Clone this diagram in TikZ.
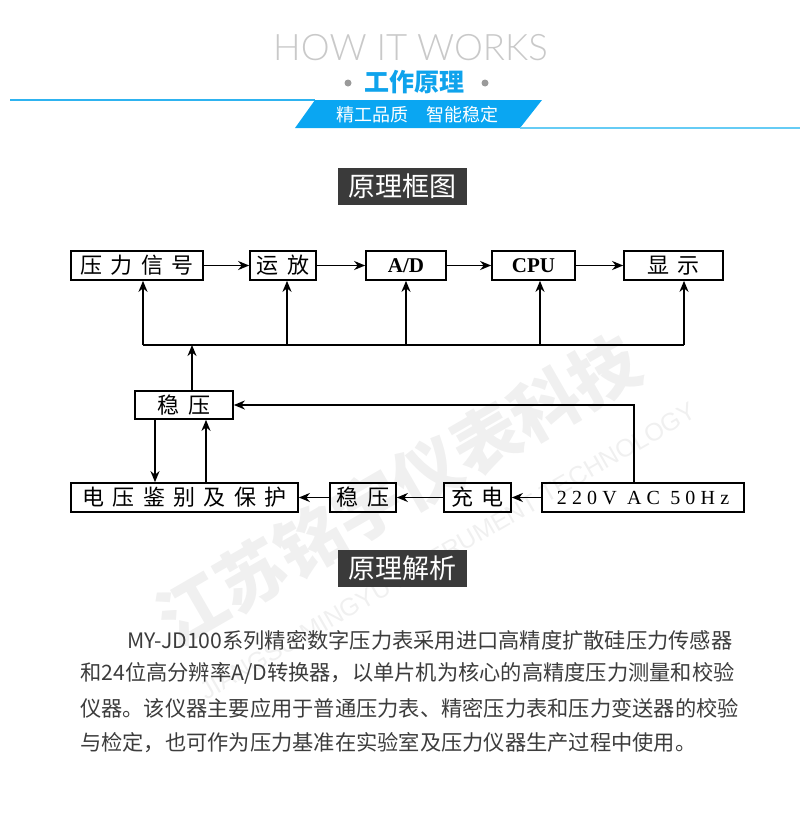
\documentclass[tikz,border=0pt]{standalone}
\usepackage{fontspec}
\setmainfont{Liberation Serif}
\newfontfamily\cjk{Noto Sans CJK SC}
\newfontfamily\boxcjk{Noto Sans CJK SC}[LetterSpace=38]
\newfontfamily\boxlat{Liberation Serif}[LetterSpace=26]
\newfontfamily\wmsans{Liberation Sans}
\IfFontExistsTF{Lato Light}{\newfontfamily\thin{Lato Light}}{\newfontfamily\thin{Lato}}
\usetikzlibrary{arrows.meta,calc}
\definecolor{howgray}{HTML}{C9C9C9}
\definecolor{titleblue}{HTML}{0FA3EC}
\definecolor{lineblue}{HTML}{2EB3F0}
\definecolor{bandblue}{HTML}{0AA6F2}
\definecolor{lightblue}{HTML}{66CCF5}
\definecolor{dotgray}{HTML}{9A9A9A}
\definecolor{dark}{HTML}{3A3A3A}
\definecolor{txt}{HTML}{3C3C3C}
\definecolor{wm}{HTML}{F0F0F0}
\begin{document}
\begin{tikzpicture}[x=1pt,y=-1pt,
	box/.style={draw,line width=1.7pt,minimum height=29pt,inner sep=0pt,font=\boxcjk\fontsize{22}{22}\selectfont},
	latbox/.style={box,font=\boxlat\fontsize{20}{20}\selectfont},
	boldbox/.style={box,font=\bfseries\fontsize{21}{21}\selectfont},
	link/.style={line width=1.7pt,-{Stealth[length=11pt,width=9pt,inset=3.5pt]}},
	bar/.style={fill=dark,text=white,inner sep=0pt,minimum width=129pt,minimum height=37pt,font=\cjk\fontsize{27}{27}\selectfont},
	para/.style={anchor=west,inner sep=0pt,text=txt,font=\cjk\fontsize{21.25}{21.25}\selectfont}]
				\useasboundingbox (0,0) rectangle (800,814);
				\def\busy{345} % y of the supply bus
				\def\topy{265.5} % y of the upper row
				\def\boty{497.5} % y of the lower row
				% watermark
				\node[rotate=30,text=wm,font=\cjk\bfseries\fontsize{68}{68}\selectfont] (wmcn) at (398,490) {江苏铭宇仪表科技};
				\node[rotate=30,text=wm,font=\wmsans\fontsize{25}{25}\selectfont] (wmen) at (448,551) {JIANGSU MINGYU INSTRUMENT TECHNOLOGY};
				% heading
				\node[anchor=base,text=howgray,font=\thin\fontsize{36.5}{36.5}\selectfont] (how) at (410.5,60) {HOW IT WORKS};
				\node[text=titleblue,font=\cjk\bfseries\fontsize{25}{25}\selectfont] (title) at (414,82.5) {工作原理};
				\fill[dotgray] (348,83) circle (3.5pt);
				\fill[dotgray] (485,83) circle (3.5pt);
				\draw[line width=2pt,lineblue] (10,100) -- (315,100);
				\fill[bandblue] (315,100) -- (542,100) -- (520,128) -- (295,128) -- cycle;
				\draw[line width=2pt,lightblue] (520,128) -- (800,128);
				\node[text=white,font=\cjk\fontsize{18}{18}\selectfont] (motto) at (417.5,115) {精工品质\quad 智能稳定};
				\node[bar] (frame) at (402.5,186.5) {原理框图};
				% block diagram
				\node[box,minimum width=132pt] (sig) at (137,\topy) {压力信号};
				\node[box,minimum width=66pt] (amp) at (283,\topy) {运放};
				\node[boldbox,minimum width=80pt] (ad) at (406,\topy) {A/D};
				\node[boldbox,minimum width=83pt] (cpu) at (533.5,\topy) {CPU};
				\node[box,minimum width=99pt] (disp) at (673.5,\topy) {显示};
				\node[box,minimum width=98pt,minimum height=28pt] (regA) at (184,405) {稳压};
				\node[box,minimum width=227pt] (prot) at (184.5,\boty) {电压鉴别及保护};
				\node[box,minimum width=66pt] (regB) at (363,\boty) {稳压};
				\node[box,minimum width=67pt] (chg) at (477.5,\boty) {充电};
				\node[latbox,minimum width=202pt] (ac) at (643,\boty) {220V AC 50Hz};
				\draw[link] (sig) -- (amp);
				\draw[link] (amp) -- (ad);
				\draw[link] (ad) -- (cpu);
				\draw[link] (cpu) -- (disp);
				\coordinate (b1) at (143,\busy);
				\coordinate (b2) at (287,\busy);
				\coordinate (b3) at (406,\busy);
				\coordinate (b4) at (540,\busy);
				\coordinate (b5) at (684,\busy);
				\coordinate (up) at (192,\busy);
				\draw[line width=1.7pt] (b1) -- (b5);
				\foreach \p/\n in {b1/sig,b2/amp,b3/ad,b4/cpu,b5/disp}
					\draw[link] (\p) -- (\p |- \n.south);
				\draw[link] (up |- regA.north) -- (up);
				\coordinate (feed) at (634,0);
				\coordinate (dn) at (155,0);
				\coordinate (rt) at (206,0);
				\draw[link] (feed |- ac.north) |- (regA.east);
				\draw[link] (dn |- regA.south) -- (dn |- prot.north);
				\draw[link] (rt |- prot.north) -- (rt |- regA.south);
				\draw[link] (ac) -- (chg);
				\draw[link] (chg) -- (regB);
				\draw[link] (regB) -- (prot);
				% explanation
				\node[bar] (expl) at (402.5,568.5) {原理解析};
				\node[para] (l1) at (127,640) {MY-JD100系列精密数字压力表采用进口高精度扩散硅压力传感器};
				\node[para] (l2) at (80,673) {和24位高分辨率A/D转换器，以单片机为核心的高精度压力测量和校验};
				\node[para] (l3) at (80,708) {仪器。该仪器主要应用于普通压力表、精密压力表和压力变送器的校验};
				\node[para] (l4) at (80,743) {与检定，也可作为压力基准在实验室及压力仪器生产过程中使用。};
\end{tikzpicture}
\end{document}
